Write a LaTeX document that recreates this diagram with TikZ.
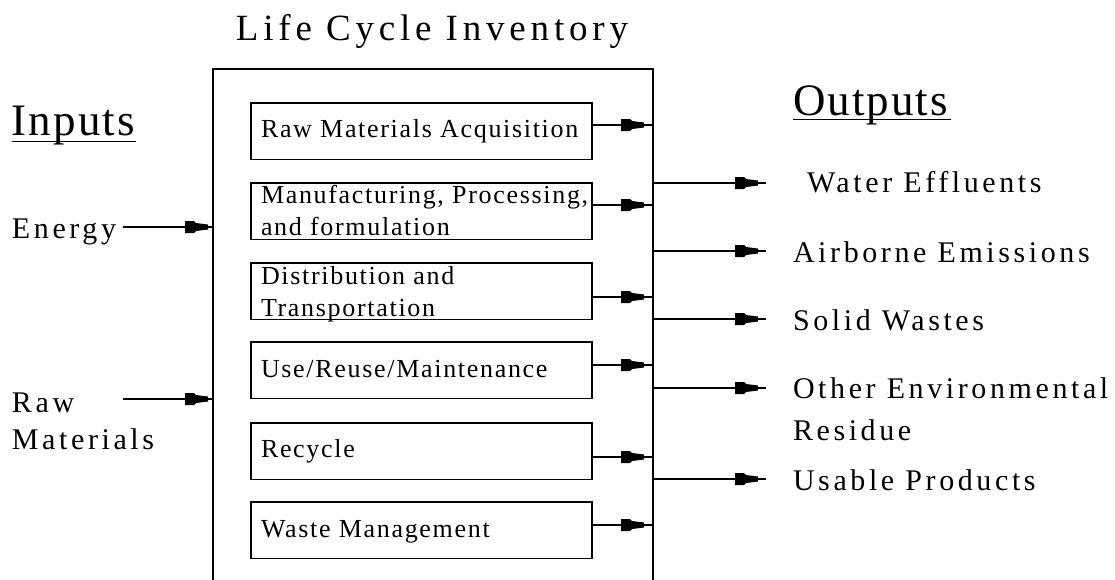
\documentclass[tikz,border=0pt]{standalone}
\usepackage{fontspec}
\setmainfont{Liberation Serif}
\newfontfamily\titlefont[LetterSpace=13]{Liberation Serif}
\newfontfamily\headfont[LetterSpace=4.5]{Liberation Serif}
\newfontfamily\labelfont[LetterSpace=12]{Liberation Serif}
\newfontfamily\stagefont[LetterSpace=6.5]{Liberation Serif}
\usetikzlibrary{decorations.markings}

\tikzset{
  % stepped solid arrow head placed a little before the end of a line
  flowhead/.style={
    postaction={decorate},
    decoration={markings, mark=at position #1 with {
      \fill (0,2.5) -- (-12,4) -- (-14,6) -- (-23,6) -- (-23,-6) -- (-14,-6) -- (-12,-4) -- (0,-2.5) -- cycle;}}},
}

\begin{document}
\begin{tikzpicture}[x=0.75pt, y=-0.75pt, line width=1.1pt,
  every node/.style={inner sep=0pt, outer sep=0pt},
  frame/.style={draw, anchor=north west, minimum width=330pt, minimum height=400pt},
  stage/.style={draw, anchor=north west, minimum width=255.75pt, minimum height=42.4pt},
  stagetext/.style={anchor=base west, align=left, font=\fontsize{19.5pt}{24pt}\stagefont},
  side/.style={anchor=base west, align=left, font=\fontsize{22.5pt}{31.5pt}\labelfont},
  heading/.style={anchor=base west, font=\fontsize{33.75pt}{36pt}\headfont},
  titletext/.style={anchor=base, font=\fontsize{27.75pt}{30pt}\titlefont},
  flow/.style={flowhead=#1},
  flow/.default=-6pt,
  rule/.style={line width=1.3pt},
]
\useasboundingbox (0,0) rectangle (1115,579);

% title and the inventory frame
\node[titletext] (title) at (432,40) {Life Cycle Inventory};
\node[frame] (lci) at (213,69) {};

% life cycle stages
\node[stage] (s1) at (251,103) {};
\node[stage] (s2) at (251,183) {};
\node[stage] (s3) at (251,263) {};
\node[stage] (s4) at (251,342) {};
\node[stage] (s5) at (251,423) {};
\node[stage] (s6) at (251,502) {};

% (multi-line labels are placed by the baseline of their last line)
\node[stagetext] (t1) at (261,137) {Raw Materials Acquisition};
\node[stagetext] (t2) at (261,235) {Manufacturing, Processing,\\and formulation};
\node[stagetext] (t3) at (261,316) {Distribution and\\Transportation};
\node[stagetext] (t4) at (261,377) {Use/Reuse/Maintenance};
\node[stagetext] (t5) at (261,457) {Recycle};
\node[stagetext] (t6) at (261,537) {Waste Management};

% stage outputs into the frame
\coordinate (a1) at ([yshift=-16.5pt]s1.north east);
\coordinate (a2) at ([yshift=-16.5pt]s2.north east);
\coordinate (a3) at ([yshift=-25.5pt]s3.north east);
\coordinate (a4) at ([yshift=-17.25pt]s4.north east);
\coordinate (a5) at ([yshift=-25.5pt]s5.north east);
\coordinate (a6) at ([yshift=-17.25pt]s6.north east);
\foreach \a in {a1,a2,a3,a4,a5,a6}
  \draw[flow=-6.75pt] (\a) -- (\a -| lci.east);

% inputs
\node[heading] (inputs) at (12,135) {Inputs};
\draw[rule] (12,141.5) -- (136,141.5);
\node[side] (energy) at (12,238) {Energy};
\node[side, font=\fontsize{22.5pt}{27.75pt}\labelfont] (raw) at (12,449) {Raw\\Materials};
\coordinate (e0) at (123,227);
\coordinate (r0) at (123,399);
\draw[flow=-3.75pt] (e0) -- (e0 -| lci.west);
\draw[flow=-3.75pt] (r0) -- (r0 -| lci.west);

% outputs
\node[heading] (outputs) at (793,115) {Outputs};
\draw[rule] (793,119.5) -- (951,119.5);
\node[side] (water) at (807,192) {Water Effluents};
\node[side] (air) at (793,262) {Airborne Emissions};
\node[side] (solid) at (793,330) {Solid Wastes};
\node[side] (other) at (793,440) {Other Environmental\\Residue};
\node[side] (usable) at (793,490) {Usable Products};
\coordinate (o1) at (766,183);
\coordinate (o2) at (766,251);
\coordinate (o3) at (766,319);
\coordinate (o4) at (766,388);
\coordinate (o5) at (766,479);
\foreach \o in {o1,o2,o3,o4,o5}
  \draw[flow] (\o -| lci.east) -- (\o);
\end{tikzpicture}
\end{document}
